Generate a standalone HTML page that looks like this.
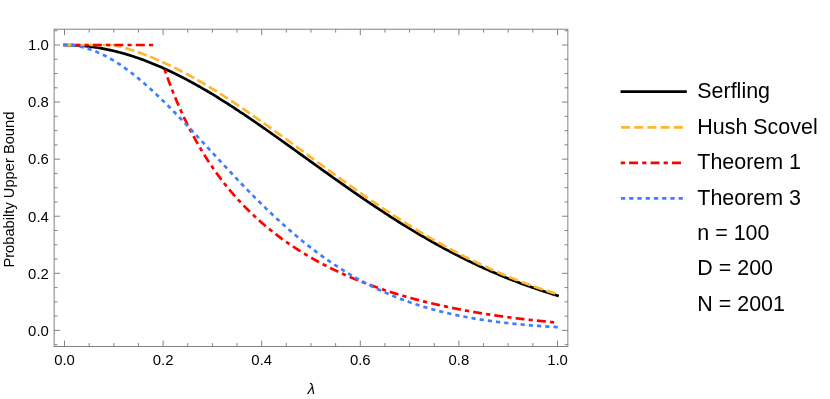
<!DOCTYPE html>
<html><head><meta charset="utf-8"><title>Probability Upper Bound</title>
<style>
html,body{margin:0;padding:0;background:#fff;}
body{width:830px;height:399px;overflow:hidden;font-family:"Liberation Sans",sans-serif;}
svg{display:block;will-change:transform;}
text{font-family:"Liberation Sans",sans-serif;fill:#000;}
.tl text{font-size:14.9px;}
.lg text{font-size:21.45px;}
.c{fill:none;stroke-width:2.7;stroke-linejoin:round;}
</style></head><body>
<svg width="830" height="399" viewBox="0 0 830 399">
<rect x="0" y="0" width="830" height="399" fill="#fff"/>
<g class="c">
<path d="M63.15 45.00 L64.50 45.00 L65.74 45.00 L66.97 45.02 L68.21 45.03 L69.44 45.06 L70.68 45.09 L71.91 45.14 L73.15 45.18 L74.38 45.24 L75.62 45.31 L76.86 45.38 L78.09 45.46 L79.33 45.54 L80.56 45.64 L81.80 45.74 L83.03 45.85 L84.27 45.96 L85.51 46.09 L86.74 46.22 L87.98 46.36 L89.21 46.50 L90.45 46.66 L91.68 46.82 L92.92 46.99 L94.15 47.16 L95.39 47.35 L96.63 47.54 L97.86 47.74 L99.10 47.94 L100.33 48.15 L101.57 48.37 L102.80 48.60 L104.04 48.84 L105.27 49.08 L106.51 49.33 L107.75 49.58 L108.98 49.85 L110.22 50.12 L111.45 50.39 L112.69 50.68 L113.92 50.97 L115.16 51.27 L116.39 51.58 L117.63 51.89 L118.87 52.21 L120.10 52.54 L121.34 52.87 L122.57 53.21 L123.81 53.56 L125.04 53.91 L126.28 54.28 L127.52 54.64 L128.75 55.02 L129.99 55.40 L131.22 55.79 L132.46 56.18 L133.69 56.59 L134.93 57.00 L136.16 57.41 L137.40 57.83 L138.64 58.26 L139.87 58.70 L141.11 59.14 L142.34 59.58 L143.58 60.04 L144.81 60.50 L146.05 60.97 L147.28 61.44 L148.52 61.92 L149.76 62.40 L150.99 62.90 L152.23 63.39 L153.46 63.90 L154.70 64.41 L155.93 64.92 L157.17 65.45 L158.40 65.98 L159.64 66.51 L160.88 67.05 L162.11 67.60 L163.35 68.15 L164.58 68.70 L165.82 69.27 L167.05 69.84 L168.29 70.41 L169.53 70.99 L170.76 71.58 L172.00 72.17 L173.23 72.76 L174.47 73.37 L175.70 73.97 L176.94 74.59 L178.17 75.20 L179.41 75.83 L180.65 76.46 L181.88 77.09 L183.12 77.73 L184.35 78.37 L185.59 79.02 L186.82 79.67 L188.06 80.33 L189.29 81.00 L190.53 81.66 L191.77 82.34 L193.00 83.01 L194.24 83.70 L195.47 84.38 L196.71 85.08 L197.94 85.77 L199.18 86.47 L200.41 87.18 L201.65 87.89 L202.89 88.60 L204.12 89.32 L205.36 90.04 L206.59 90.77 L207.83 91.50 L209.06 92.23 L210.30 92.97 L211.54 93.71 L212.77 94.46 L214.01 95.21 L215.24 95.96 L216.48 96.72 L217.71 97.48 L218.95 98.25 L220.18 99.02 L221.42 99.79 L222.66 100.57 L223.89 101.34 L225.13 102.13 L226.36 102.91 L227.60 103.70 L228.83 104.50 L230.07 105.29 L231.30 106.09 L232.54 106.89 L233.78 107.70 L235.01 108.50 L236.25 109.32 L237.48 110.13 L238.72 110.95 L239.95 111.76 L241.19 112.59 L242.42 113.41 L243.66 114.24 L244.90 115.07 L246.13 115.90 L247.37 116.74 L248.60 117.57 L249.84 118.41 L251.07 119.25 L252.31 120.10 L253.55 120.94 L254.78 121.79 L256.02 122.64 L257.25 123.49 L258.49 124.35 L259.72 125.20 L260.96 126.06 L262.19 126.92 L263.43 127.78 L264.67 128.65 L265.90 129.51 L267.14 130.38 L268.37 131.24 L269.61 132.11 L270.84 132.98 L272.08 133.86 L273.31 134.73 L274.55 135.60 L275.79 136.48 L277.02 137.36 L278.26 138.24 L279.49 139.12 L280.73 140.00 L281.96 140.88 L283.20 141.76 L284.43 142.64 L285.67 143.53 L286.91 144.41 L288.14 145.30 L289.38 146.18 L290.61 147.07 L291.85 147.95 L293.08 148.84 L294.32 149.73 L295.56 150.62 L296.79 151.51 L298.03 152.40 L299.26 153.29 L300.50 154.18 L301.73 155.07 L302.97 155.96 L304.20 156.85 L305.44 157.73 L306.68 158.62 L307.91 159.51 L309.15 160.40 L310.38 161.29 L311.62 162.18 L312.85 163.07 L314.09 163.96 L315.32 164.85 L316.56 165.74 L317.80 166.63 L319.03 167.51 L320.27 168.40 L321.50 169.29 L322.74 170.17 L323.97 171.06 L325.21 171.94 L326.44 172.82 L327.68 173.71 L328.92 174.59 L330.15 175.47 L331.39 176.35 L332.62 177.23 L333.86 178.11 L335.09 178.98 L336.33 179.86 L337.57 180.73 L338.80 181.61 L340.04 182.48 L341.27 183.35 L342.51 184.22 L343.74 185.09 L344.98 185.96 L346.21 186.82 L347.45 187.69 L348.69 188.55 L349.92 189.41 L351.16 190.27 L352.39 191.13 L353.63 191.99 L354.86 192.84 L356.10 193.70 L357.33 194.55 L358.57 195.40 L359.81 196.25 L361.04 197.09 L362.28 197.94 L363.51 198.78 L364.75 199.62 L365.98 200.46 L367.22 201.30 L368.45 202.13 L369.69 202.97 L370.93 203.80 L372.16 204.63 L373.40 205.45 L374.63 206.28 L375.87 207.10 L377.10 207.92 L378.34 208.74 L379.58 209.55 L380.81 210.37 L382.05 211.18 L383.28 211.99 L384.52 212.79 L385.75 213.60 L386.99 214.40 L388.22 215.20 L389.46 215.99 L390.70 216.79 L391.93 217.58 L393.17 218.37 L394.40 219.15 L395.64 219.94 L396.87 220.72 L398.11 221.50 L399.34 222.27 L400.58 223.05 L401.82 223.82 L403.05 224.59 L404.29 225.35 L405.52 226.11 L406.76 226.87 L407.99 227.63 L409.23 228.38 L410.46 229.13 L411.70 229.88 L412.94 230.63 L414.17 231.37 L415.41 232.11 L416.64 232.84 L417.88 233.58 L419.11 234.31 L420.35 235.04 L421.59 235.76 L422.82 236.48 L424.06 237.20 L425.29 237.92 L426.53 238.63 L427.76 239.34 L429.00 240.04 L430.23 240.75 L431.47 241.45 L432.71 242.14 L433.94 242.84 L435.18 243.53 L436.41 244.21 L437.65 244.90 L438.88 245.58 L440.12 246.26 L441.35 246.93 L442.59 247.60 L443.83 248.27 L445.06 248.94 L446.30 249.60 L447.53 250.26 L448.77 250.91 L450.00 251.56 L451.24 252.21 L452.47 252.86 L453.71 253.50 L454.95 254.14 L456.18 254.77 L457.42 255.40 L458.65 256.03 L459.89 256.66 L461.12 257.28 L462.36 257.90 L463.60 258.51 L464.83 259.13 L466.07 259.73 L467.30 260.34 L468.54 260.94 L469.77 261.54 L471.01 262.14 L472.24 262.73 L473.48 263.32 L474.72 263.90 L475.95 264.48 L477.19 265.06 L478.42 265.64 L479.66 266.21 L480.89 266.78 L482.13 267.34 L483.36 267.90 L484.60 268.46 L485.84 269.02 L487.07 269.57 L488.31 270.12 L489.54 270.66 L490.78 271.20 L492.01 271.74 L493.25 272.28 L494.48 272.81 L495.72 273.34 L496.96 273.86 L498.19 274.38 L499.43 274.90 L500.66 275.42 L501.90 275.93 L503.13 276.43 L504.37 276.94 L505.61 277.44 L506.84 277.94 L508.08 278.43 L509.31 278.92 L510.55 279.41 L511.78 279.90 L513.02 280.38 L514.25 280.86 L515.49 281.33 L516.73 281.80 L517.96 282.27 L519.20 282.74 L520.43 283.20 L521.67 283.66 L522.90 284.11 L524.14 284.57 L525.37 285.02 L526.61 285.46 L527.85 285.90 L529.08 286.34 L530.32 286.78 L531.55 287.21 L532.79 287.64 L534.02 288.07 L535.26 288.49 L536.49 288.91 L537.73 289.33 L538.97 289.75 L540.20 290.16 L541.44 290.56 L542.67 290.97 L543.91 291.37 L545.14 291.77 L546.38 292.17 L547.62 292.56 L548.85 292.95 L550.09 293.33 L551.32 293.72 L552.56 294.10 L553.79 294.48 L555.03 294.85 L556.26 295.22 L557.50 295.59 L558.79 295.98" stroke="#000"/>
<path d="M63.15 45.00 L111.80 45.00" stroke="#ffb731" stroke-dasharray="9.4 3.8"/>
<path d="M112.45 45.00 L113.80 45.00 L114.91 45.27 L116.02 45.55 L117.14 45.83 L118.25 46.12 L119.36 46.41 L120.47 46.71 L121.58 47.02 L122.70 47.33 L123.81 47.65 L124.92 47.97 L126.03 48.30 L127.14 48.63 L128.26 48.97 L129.37 49.32 L130.48 49.67 L131.59 50.03 L132.70 50.39 L133.82 50.76 L134.93 51.13 L136.04 51.51 L137.15 51.89 L138.26 52.28 L139.38 52.67 L140.49 53.07 L141.60 53.48 L142.71 53.89 L143.82 54.30 L144.94 54.72 L146.05 55.15 L147.16 55.58 L148.27 56.02 L149.38 56.46 L150.50 56.90 L151.61 57.35 L152.72 57.81 L153.83 58.27 L154.95 58.74 L156.06 59.21 L157.17 59.69 L158.28 60.17 L159.39 60.65 L160.51 61.14 L161.62 61.64 L162.73 62.14 L163.84 62.65 L164.95 63.16 L166.07 63.67 L167.18 64.19 L168.29 64.71 L169.40 65.24 L170.51 65.77 L171.63 66.31 L172.74 66.85 L173.85 67.40 L174.96 67.95 L176.07 68.51 L177.19 69.07 L178.30 69.63 L179.41 70.20 L180.52 70.77 L181.63 71.35 L182.75 71.93 L183.86 72.52 L184.97 73.11 L186.08 73.70 L187.19 74.30 L188.31 74.90 L189.42 75.50 L190.53 76.11 L191.64 76.73 L192.75 77.34 L193.87 77.97 L194.98 78.59 L196.09 79.22 L197.20 79.85 L198.31 80.49 L199.43 81.13 L200.54 81.77 L201.65 82.42 L202.76 83.07 L203.87 83.72 L204.99 84.38 L206.10 85.04 L207.21 85.71 L208.32 86.38 L209.43 87.05 L210.55 87.72 L211.66 88.40 L212.77 89.08 L213.88 89.77 L214.99 90.45 L216.11 91.14 L217.22 91.84 L218.33 92.53 L219.44 93.23 L220.55 93.94 L221.67 94.64 L222.78 95.35 L223.89 96.06 L225.00 96.78 L226.12 97.49 L227.23 98.21 L228.34 98.94 L229.45 99.66 L230.56 100.39 L231.68 101.12 L232.79 101.85 L233.90 102.59 L235.01 103.32 L236.12 104.06 L237.24 104.81 L238.35 105.55 L239.46 106.30 L240.57 107.05 L241.68 107.80 L242.80 108.55 L243.91 109.31 L245.02 110.07 L246.13 110.83 L247.24 111.59 L248.36 112.35 L249.47 113.12 L250.58 113.89 L251.69 114.66 L252.80 115.43 L253.92 116.20 L255.03 116.98 L256.14 117.75 L257.25 118.53 L258.36 119.31 L259.48 120.09 L260.59 120.88 L261.70 121.66 L262.81 122.45 L263.92 123.24 L265.04 124.02 L266.15 124.82 L267.26 125.61 L268.37 126.40 L269.48 127.19 L270.60 127.99 L271.71 128.79 L272.82 129.58 L273.93 130.38 L275.04 131.18 L276.16 131.98 L277.27 132.79 L278.38 133.59 L279.49 134.39 L280.60 135.20 L281.72 136.00 L282.83 136.81 L283.94 137.62 L285.05 138.42 L286.16 139.23 L287.28 140.04 L288.39 140.85 L289.50 141.66 L290.61 142.47 L291.72 143.28 L292.84 144.09 L293.95 144.91 L295.06 145.72 L296.17 146.53 L297.28 147.34 L298.40 148.16 L299.51 148.97 L300.62 149.78 L301.73 150.60 L302.85 151.41 L303.96 152.23 L305.07 153.04 L306.18 153.85 L307.29 154.67 L308.41 155.48 L309.52 156.30 L310.63 157.11 L311.74 157.92 L312.85 158.74 L313.97 159.55 L315.08 160.36 L316.19 161.18 L317.30 161.99 L318.41 162.80 L319.53 163.61 L320.64 164.43 L321.75 165.24 L322.86 166.05 L323.97 166.86 L325.09 167.67 L326.20 168.48 L327.31 169.28 L328.42 170.09 L329.53 170.90 L330.65 171.71 L331.76 172.51 L332.87 173.32 L333.98 174.12 L335.09 174.92 L336.21 175.73 L337.32 176.53 L338.43 177.33 L339.54 178.13 L340.65 178.93 L341.77 179.72 L342.88 180.52 L343.99 181.32 L345.10 182.11 L346.21 182.90 L347.33 183.70 L348.44 184.49 L349.55 185.28 L350.66 186.07 L351.77 186.85 L352.89 187.64 L354.00 188.43 L355.11 189.21 L356.22 189.99 L357.33 190.77 L358.45 191.55 L359.56 192.33 L360.67 193.11 L361.78 193.88 L362.89 194.66 L364.01 195.43 L365.12 196.20 L366.23 196.97 L367.34 197.74 L368.45 198.50 L369.57 199.27 L370.68 200.03 L371.79 200.79 L372.90 201.55 L374.02 202.31 L375.13 203.06 L376.24 203.81 L377.35 204.57 L378.46 205.32 L379.58 206.07 L380.69 206.81 L381.80 207.56 L382.91 208.30 L384.02 209.04 L385.14 209.78 L386.25 210.52 L387.36 211.25 L388.47 211.99 L389.58 212.72 L390.70 213.45 L391.81 214.17 L392.92 214.90 L394.03 215.62 L395.14 216.34 L396.26 217.06 L397.37 217.78 L398.48 218.49 L399.59 219.20 L400.70 219.91 L401.82 220.62 L402.93 221.33 L404.04 222.03 L405.15 222.73 L406.26 223.43 L407.38 224.13 L408.49 224.82 L409.60 225.51 L410.71 226.20 L411.82 226.89 L412.94 227.57 L414.05 228.26 L415.16 228.94 L416.27 229.61 L417.38 230.29 L418.50 230.96 L419.61 231.63 L420.72 232.30 L421.83 232.97 L422.94 233.63 L424.06 234.29 L425.17 234.95 L426.28 235.60 L427.39 236.26 L428.50 236.91 L429.62 237.56 L430.73 238.20 L431.84 238.84 L432.95 239.48 L434.06 240.12 L435.18 240.76 L436.29 241.39 L437.40 242.02 L438.51 242.65 L439.62 243.27 L440.74 243.90 L441.85 244.52 L442.96 245.13 L444.07 245.75 L445.18 246.36 L446.30 246.97 L447.41 247.58 L448.52 248.18 L449.63 248.78 L450.75 249.38 L451.86 249.97 L452.97 250.57 L454.08 251.16 L455.19 251.75 L456.31 252.33 L457.42 252.91 L458.53 253.49 L459.64 254.07 L460.75 254.64 L461.87 255.22 L462.98 255.78 L464.09 256.35 L465.20 256.91 L466.31 257.47 L467.43 258.03 L468.54 258.59 L469.65 259.14 L470.76 259.69 L471.87 260.24 L472.99 260.78 L474.10 261.32 L475.21 261.86 L476.32 262.40 L477.43 262.93 L478.55 263.46 L479.66 263.99 L480.77 264.51 L481.88 265.03 L482.99 265.55 L484.11 266.07 L485.22 266.58 L486.33 267.09 L487.44 267.60 L488.55 268.11 L489.67 268.61 L490.78 269.11 L491.89 269.61 L493.00 270.10 L494.11 270.59 L495.23 271.08 L496.34 271.57 L497.45 272.05 L498.56 272.53 L499.67 273.01 L500.79 273.49 L501.90 273.96 L503.01 274.43 L504.12 274.89 L505.23 275.36 L506.35 275.82 L507.46 276.28 L508.57 276.74 L509.68 277.19 L510.79 277.64 L511.91 278.09 L513.02 278.53 L514.13 278.98 L515.24 279.42 L516.35 279.85 L517.47 280.29 L518.58 280.72 L519.69 281.15 L520.80 281.57 L521.92 282.00 L523.03 282.42 L524.14 282.84 L525.25 283.25 L526.36 283.67 L527.48 284.08 L528.59 284.49 L529.70 284.89 L530.81 285.29 L531.92 285.69 L533.04 286.09 L534.15 286.49 L535.26 286.88 L536.37 287.27 L537.48 287.66 L538.60 288.04 L539.71 288.42 L540.82 288.80 L541.93 289.18 L543.04 289.55 L544.16 289.92 L545.27 290.29 L546.38 290.66 L547.49 291.02 L548.60 291.39 L549.72 291.74 L550.83 292.10 L551.94 292.46 L553.05 292.81 L554.16 293.16 L555.28 293.50 L556.39 293.85 L557.50 294.19 L558.79 294.59" stroke="#ffb731" stroke-dasharray="9.4 3.8"/>
<path d="M63.15 45.00 L153.20 45.00" stroke="#ff0000" stroke-dasharray="4.2 4.15 8.95 4.15"/>
<path d="M164.63 69.49 L165.37 71.62 L166.35 74.40 L167.34 77.14 L168.32 79.84 L169.31 82.49 L170.29 85.09 L171.28 87.65 L172.26 90.18 L173.25 92.66 L174.23 95.10 L175.22 97.51 L176.20 99.87 L177.19 102.20 L178.18 104.50 L179.16 106.76 L180.15 108.98 L181.13 111.18 L182.12 113.34 L183.10 115.47 L184.09 117.56 L185.07 119.63 L186.06 121.67 L187.04 123.68 L188.03 125.66 L189.01 127.62 L190.00 129.54 L190.98 131.44 L191.97 133.32 L192.95 135.17 L193.94 136.99 L194.92 138.79 L195.91 140.57 L196.90 142.32 L197.88 144.05 L198.87 145.76 L199.85 147.45 L200.84 149.11 L201.82 150.76 L202.81 152.38 L203.79 153.98 L204.78 155.57 L205.76 157.13 L206.75 158.67 L207.73 160.20 L208.72 161.71 L209.70 163.20 L210.69 164.67 L211.67 166.12 L212.66 167.56 L213.64 168.98 L214.63 170.39 L215.62 171.77 L216.60 173.15 L217.59 174.50 L218.57 175.84 L219.56 177.17 L220.54 178.48 L221.53 179.78 L222.51 181.06 L223.50 182.33 L224.48 183.58 L225.47 184.82 L226.45 186.05 L227.44 187.27 L228.42 188.47 L229.41 189.66 L230.39 190.83 L231.38 192.00 L232.36 193.15 L233.35 194.29 L234.34 195.42 L235.32 196.53 L236.31 197.64 L237.29 198.73 L238.28 199.81 L239.26 200.89 L240.25 201.95 L241.23 203.00 L242.22 204.04 L243.20 205.07 L244.19 206.09 L245.17 207.10 L246.16 208.10 L247.14 209.09 L248.13 210.07 L249.11 211.04 L250.10 212.00 L251.08 212.96 L252.07 213.90 L253.06 214.84 L254.04 215.76 L255.03 216.68 L256.01 217.59 L257.00 218.49 L257.98 219.38 L258.97 220.27 L259.95 221.14 L260.94 222.01 L261.92 222.87 L262.91 223.73 L263.89 224.57 L264.88 225.41 L265.86 226.24 L266.85 227.06 L267.83 227.88 L268.82 228.69 L269.80 229.49 L270.79 230.28 L271.77 231.07 L272.76 231.85 L273.75 232.62 L274.73 233.39 L275.72 234.15 L276.70 234.90 L277.69 235.65 L278.67 236.39 L279.66 237.13 L280.64 237.86 L281.63 238.58 L282.61 239.30 L283.60 240.01 L284.58 240.71 L285.57 241.41 L286.55 242.10 L287.54 242.79 L288.52 243.47 L289.51 244.15 L290.49 244.82 L291.48 245.48 L292.47 246.14 L293.45 246.80 L294.44 247.45 L295.42 248.09 L296.41 248.73 L297.39 249.36 L298.38 249.99 L299.36 250.61 L300.35 251.23 L301.33 251.85 L302.32 252.46 L303.30 253.06 L304.29 253.66 L305.27 254.25 L306.26 254.84 L307.24 255.43 L308.23 256.01 L309.21 256.59 L310.20 257.16 L311.19 257.73 L312.17 258.29 L313.16 258.85 L314.14 259.40 L315.13 259.95 L316.11 260.50 L317.10 261.04 L318.08 261.58 L319.07 262.11 L320.05 262.64 L321.04 263.17 L322.02 263.69 L323.01 264.21 L323.99 264.72 L324.98 265.23 L325.96 265.74 L326.95 266.24 L327.93 266.74 L328.92 267.23 L329.91 267.72 L330.89 268.21 L331.88 268.69 L332.86 269.18 L333.85 269.65 L334.83 270.13 L335.82 270.60 L336.80 271.06 L337.79 271.52 L338.77 271.98 L339.76 272.44 L340.74 272.89 L341.73 273.34 L342.71 273.79 L343.70 274.23 L344.68 274.67 L345.67 275.11 L346.65 275.54 L347.64 275.97 L348.63 276.40 L349.61 276.82 L350.60 277.25 L351.58 277.66 L352.57 278.08 L353.55 278.49 L354.54 278.90 L355.52 279.31 L356.51 279.71 L357.49 280.11 L358.48 280.51 L359.46 280.90 L360.45 281.29 L361.43 281.68 L362.42 282.07 L363.40 282.45 L364.39 282.83 L365.37 283.21 L366.36 283.59 L367.35 283.96 L368.33 284.33 L369.32 284.70 L370.30 285.06 L371.29 285.43 L372.27 285.79 L373.26 286.14 L374.24 286.50 L375.23 286.85 L376.21 287.20 L377.20 287.55 L378.18 287.89 L379.17 288.23 L380.15 288.57 L381.14 288.91 L382.12 289.25 L383.11 289.58 L384.09 289.91 L385.08 290.24 L386.06 290.56 L387.05 290.89 L388.04 291.21 L389.02 291.53 L390.01 291.84 L390.99 292.16 L391.98 292.47 L392.96 292.78 L393.95 293.09 L394.93 293.39 L395.92 293.70 L396.90 294.00 L397.89 294.30 L398.87 294.60 L399.86 294.89 L400.84 295.18 L401.83 295.48 L402.81 295.76 L403.80 296.05 L404.78 296.34 L405.77 296.62 L406.76 296.90 L407.74 297.18 L408.73 297.46 L409.71 297.73 L410.70 298.00 L411.68 298.28 L412.67 298.55 L413.65 298.81 L414.64 299.08 L415.62 299.34 L416.61 299.60 L417.59 299.86 L418.58 300.12 L419.56 300.38 L420.55 300.63 L421.53 300.89 L422.52 301.14 L423.50 301.39 L424.49 301.63 L425.48 301.88 L426.46 302.12 L427.45 302.36 L428.43 302.60 L429.42 302.84 L430.40 303.08 L431.39 303.31 L432.37 303.55 L433.36 303.78 L434.34 304.01 L435.33 304.24 L436.31 304.47 L437.30 304.69 L438.28 304.92 L439.27 305.14 L440.25 305.36 L441.24 305.58 L442.22 305.79 L443.21 306.01 L444.20 306.22 L445.18 306.44 L446.17 306.65 L447.15 306.86 L448.14 307.07 L449.12 307.27 L450.11 307.48 L451.09 307.68 L452.08 307.88 L453.06 308.08 L454.05 308.28 L455.03 308.48 L456.02 308.68 L457.00 308.87 L457.99 309.07 L458.97 309.26 L459.96 309.45 L460.94 309.64 L461.93 309.83 L462.92 310.01 L463.90 310.20 L464.89 310.38 L465.87 310.56 L466.86 310.74 L467.84 310.92 L468.83 311.10 L469.81 311.28 L470.80 311.46 L471.78 311.63 L472.77 311.80 L473.75 311.97 L474.74 312.15 L475.72 312.31 L476.71 312.48 L477.69 312.65 L478.68 312.81 L479.66 312.98 L480.65 313.14 L481.64 313.30 L482.62 313.46 L483.61 313.62 L484.59 313.78 L485.58 313.94 L486.56 314.09 L487.55 314.25 L488.53 314.40 L489.52 314.55 L490.50 314.71 L491.49 314.86 L492.47 315.00 L493.46 315.15 L494.44 315.30 L495.43 315.44 L496.41 315.59 L497.40 315.73 L498.38 315.87 L499.37 316.01 L500.35 316.15 L501.34 316.29 L502.33 316.43 L503.31 316.57 L504.30 316.70 L505.28 316.83 L506.27 316.97 L507.25 317.10 L508.24 317.23 L509.22 317.36 L510.21 317.49 L511.19 317.62 L512.18 317.75 L513.16 317.87 L514.15 318.00 L515.13 318.12 L516.12 318.24 L517.10 318.37 L518.09 318.49 L519.07 318.61 L520.06 318.73 L521.05 318.84 L522.03 318.96 L523.02 319.08 L524.00 319.19 L524.99 319.31 L525.97 319.42 L526.96 319.53 L527.94 319.64 L528.93 319.75 L529.91 319.86 L530.90 319.97 L531.88 320.08 L532.87 320.19 L533.85 320.29 L534.84 320.40 L535.82 320.50 L536.81 320.61 L537.79 320.71 L538.78 320.81 L539.77 320.91 L540.75 321.01 L541.74 321.11 L542.72 321.21 L543.71 321.31 L544.69 321.40 L545.68 321.50 L546.66 321.59 L547.65 321.69 L548.63 321.78 L549.62 321.87 L550.60 321.97 L551.59 322.06 L552.57 322.15 L553.56 322.24 L554.54 322.33 L555.53 322.41 L556.51 322.50 L557.50 322.59" stroke="#ff0000" stroke-dasharray="4.2 4.15 8.95 4.15"/>
<path d="M63.15 44.99 L64.50 45.00 L65.74 45.01 L66.97 45.04 L68.21 45.09 L69.44 45.17 L70.68 45.26 L71.91 45.38 L73.15 45.51 L74.38 45.67 L75.62 45.85 L76.86 46.04 L78.09 46.26 L79.33 46.50 L80.56 46.76 L81.80 47.03 L83.03 47.33 L84.27 47.65 L85.51 47.98 L86.74 48.34 L87.98 48.71 L89.21 49.11 L90.45 49.52 L91.68 49.95 L92.92 50.40 L94.15 50.87 L95.39 51.36 L96.63 51.87 L97.86 52.39 L99.10 52.93 L100.33 53.49 L101.57 54.07 L102.80 54.66 L104.04 55.28 L105.27 55.91 L106.51 56.55 L107.75 57.21 L108.98 57.89 L110.22 58.59 L111.45 59.30 L112.69 60.03 L113.92 60.77 L115.16 61.53 L116.39 62.30 L117.63 63.09 L118.87 63.90 L120.10 64.72 L121.34 65.55 L122.57 66.40 L123.81 67.26 L125.04 68.14 L126.28 69.03 L127.52 69.93 L128.75 70.85 L129.99 71.78 L131.22 72.73 L132.46 73.68 L133.69 74.65 L134.93 75.63 L136.16 76.63 L137.40 77.63 L138.64 78.65 L139.87 79.68 L141.11 80.72 L142.34 81.77 L143.58 82.83 L144.81 83.90 L146.05 84.99 L147.28 86.08 L148.52 87.18 L149.76 88.30 L150.99 89.42 L152.23 90.55 L153.46 91.69 L154.70 92.84 L155.93 94.00 L157.17 95.17 L158.40 96.34 L159.64 97.53 L160.88 98.72 L162.11 99.92 L163.35 101.12 L164.58 102.34 L165.82 103.56 L167.05 104.78 L168.29 106.02 L169.53 107.26 L170.76 108.50 L172.00 109.76 L173.23 111.01 L174.47 112.28 L175.70 113.55 L176.94 114.82 L178.17 116.10 L179.41 117.38 L180.65 118.67 L181.88 119.96 L183.12 121.26 L184.35 122.56 L185.59 123.86 L186.82 125.17 L188.06 126.48 L189.29 127.79 L190.53 129.11 L191.77 130.43 L193.00 131.75 L194.24 133.08 L195.47 134.40 L196.71 135.73 L197.94 137.06 L199.18 138.39 L200.41 139.73 L201.65 141.06 L202.89 142.40 L204.12 143.73 L205.36 145.07 L206.59 146.41 L207.83 147.75 L209.06 149.08 L210.30 150.42 L211.54 151.76 L212.77 153.10 L214.01 154.44 L215.24 155.77 L216.48 157.11 L217.71 158.44 L218.95 159.78 L220.18 161.11 L221.42 162.44 L222.66 163.77 L223.89 165.10 L225.13 166.43 L226.36 167.75 L227.60 169.07 L228.83 170.39 L230.07 171.71 L231.30 173.03 L232.54 174.34 L233.78 175.65 L235.01 176.95 L236.25 178.26 L237.48 179.56 L238.72 180.86 L239.95 182.15 L241.19 183.44 L242.42 184.73 L243.66 186.01 L244.90 187.29 L246.13 188.56 L247.37 189.84 L248.60 191.10 L249.84 192.37 L251.07 193.62 L252.31 194.88 L253.55 196.13 L254.78 197.37 L256.02 198.61 L257.25 199.85 L258.49 201.08 L259.72 202.30 L260.96 203.52 L262.19 204.73 L263.43 205.94 L264.67 207.15 L265.90 208.35 L267.14 209.54 L268.37 210.73 L269.61 211.91 L270.84 213.08 L272.08 214.25 L273.31 215.42 L274.55 216.57 L275.79 217.73 L277.02 218.87 L278.26 220.01 L279.49 221.14 L280.73 222.27 L281.96 223.39 L283.20 224.51 L284.43 225.62 L285.67 226.72 L286.91 227.81 L288.14 228.90 L289.38 229.98 L290.61 231.06 L291.85 232.13 L293.08 233.19 L294.32 234.24 L295.56 235.29 L296.79 236.33 L298.03 237.37 L299.26 238.40 L300.50 239.42 L301.73 240.43 L302.97 241.44 L304.20 242.44 L305.44 243.43 L306.68 244.42 L307.91 245.39 L309.15 246.37 L310.38 247.33 L311.62 248.29 L312.85 249.24 L314.09 250.18 L315.32 251.12 L316.56 252.05 L317.80 252.97 L319.03 253.88 L320.27 254.79 L321.50 255.69 L322.74 256.58 L323.97 257.47 L325.21 258.35 L326.44 259.22 L327.68 260.08 L328.92 260.94 L330.15 261.79 L331.39 262.63 L332.62 263.47 L333.86 264.29 L335.09 265.12 L336.33 265.93 L337.57 266.74 L338.80 267.54 L340.04 268.33 L341.27 269.11 L342.51 269.89 L343.74 270.66 L344.98 271.43 L346.21 272.18 L347.45 272.93 L348.69 273.68 L349.92 274.41 L351.16 275.14 L352.39 275.86 L353.63 276.58 L354.86 277.29 L356.10 277.99 L357.33 278.68 L358.57 279.37 L359.81 280.05 L361.04 280.72 L362.28 281.39 L363.51 282.05 L364.75 282.71 L365.98 283.35 L367.22 283.99 L368.45 284.63 L369.69 285.25 L370.93 285.88 L372.16 286.49 L373.40 287.10 L374.63 287.70 L375.87 288.29 L377.10 288.88 L378.34 289.46 L379.58 290.04 L380.81 290.61 L382.05 291.17 L383.28 291.73 L384.52 292.28 L385.75 292.83 L386.99 293.36 L388.22 293.90 L389.46 294.42 L390.70 294.94 L391.93 295.46 L393.17 295.97 L394.40 296.47 L395.64 296.97 L396.87 297.46 L398.11 297.94 L399.34 298.42 L400.58 298.90 L401.82 299.37 L403.05 299.83 L404.29 300.29 L405.52 300.74 L406.76 301.19 L407.99 301.63 L409.23 302.06 L410.46 302.49 L411.70 302.92 L412.94 303.34 L414.17 303.75 L415.41 304.16 L416.64 304.57 L417.88 304.96 L419.11 305.36 L420.35 305.75 L421.59 306.13 L422.82 306.51 L424.06 306.89 L425.29 307.25 L426.53 307.62 L427.76 307.98 L429.00 308.33 L430.23 308.69 L431.47 309.03 L432.71 309.37 L433.94 309.71 L435.18 310.04 L436.41 310.37 L437.65 310.69 L438.88 311.01 L440.12 311.33 L441.35 311.64 L442.59 311.94 L443.83 312.25 L445.06 312.54 L446.30 312.84 L447.53 313.13 L448.77 313.41 L450.00 313.70 L451.24 313.97 L452.47 314.25 L453.71 314.52 L454.95 314.78 L456.18 315.05 L457.42 315.31 L458.65 315.56 L459.89 315.81 L461.12 316.06 L462.36 316.30 L463.60 316.54 L464.83 316.78 L466.07 317.02 L467.30 317.25 L468.54 317.47 L469.77 317.70 L471.01 317.92 L472.24 318.13 L473.48 318.35 L474.72 318.56 L475.95 318.77 L477.19 318.97 L478.42 319.17 L479.66 319.37 L480.89 319.56 L482.13 319.76 L483.36 319.94 L484.60 320.13 L485.84 320.31 L487.07 320.49 L488.31 320.67 L489.54 320.85 L490.78 321.02 L492.01 321.19 L493.25 321.36 L494.48 321.52 L495.72 321.68 L496.96 321.84 L498.19 322.00 L499.43 322.15 L500.66 322.30 L501.90 322.45 L503.13 322.60 L504.37 322.74 L505.61 322.89 L506.84 323.03 L508.08 323.16 L509.31 323.30 L510.55 323.43 L511.78 323.56 L513.02 323.69 L514.25 323.82 L515.49 323.94 L516.73 324.06 L517.96 324.18 L519.20 324.30 L520.43 324.42 L521.67 324.53 L522.90 324.65 L524.14 324.76 L525.37 324.86 L526.61 324.97 L527.85 325.08 L529.08 325.18 L530.32 325.28 L531.55 325.38 L532.79 325.48 L534.02 325.57 L535.26 325.67 L536.49 325.76 L537.73 325.85 L538.97 325.94 L540.20 326.03 L541.44 326.12 L542.67 326.20 L543.91 326.29 L545.14 326.37 L546.38 326.45 L547.62 326.53 L548.85 326.61 L550.09 326.68 L551.32 326.76 L552.56 326.83 L553.79 326.90 L555.03 326.97 L556.26 327.04 L557.50 327.11 L558.85 327.19" stroke="#3f7fff" stroke-dasharray="4.25 4"/>
</g>
<g stroke="#7c7c7c" stroke-width="0.95" fill="none">
<rect x="54.15" y="29.2" width="513.71" height="317.30"/>
<line x1="64.50" y1="346.50" x2="64.50" y2="340.60"/>
<line x1="64.50" y1="29.20" x2="64.50" y2="35.10"/>
<line x1="54.15" y1="330.40" x2="60.05" y2="330.40"/>
<line x1="567.86" y1="330.40" x2="561.96" y2="330.40"/>
<line x1="89.15" y1="346.50" x2="89.15" y2="343.10"/>
<line x1="89.15" y1="29.20" x2="89.15" y2="32.60"/>
<line x1="54.15" y1="316.13" x2="57.55" y2="316.13"/>
<line x1="567.86" y1="316.13" x2="564.46" y2="316.13"/>
<line x1="113.80" y1="346.50" x2="113.80" y2="343.10"/>
<line x1="113.80" y1="29.20" x2="113.80" y2="32.60"/>
<line x1="54.15" y1="301.86" x2="57.55" y2="301.86"/>
<line x1="567.86" y1="301.86" x2="564.46" y2="301.86"/>
<line x1="138.45" y1="346.50" x2="138.45" y2="343.10"/>
<line x1="138.45" y1="29.20" x2="138.45" y2="32.60"/>
<line x1="54.15" y1="287.59" x2="57.55" y2="287.59"/>
<line x1="567.86" y1="287.59" x2="564.46" y2="287.59"/>
<line x1="163.10" y1="346.50" x2="163.10" y2="340.60"/>
<line x1="163.10" y1="29.20" x2="163.10" y2="35.10"/>
<line x1="54.15" y1="273.32" x2="60.05" y2="273.32"/>
<line x1="567.86" y1="273.32" x2="561.96" y2="273.32"/>
<line x1="187.75" y1="346.50" x2="187.75" y2="343.10"/>
<line x1="187.75" y1="29.20" x2="187.75" y2="32.60"/>
<line x1="54.15" y1="259.05" x2="57.55" y2="259.05"/>
<line x1="567.86" y1="259.05" x2="564.46" y2="259.05"/>
<line x1="212.40" y1="346.50" x2="212.40" y2="343.10"/>
<line x1="212.40" y1="29.20" x2="212.40" y2="32.60"/>
<line x1="54.15" y1="244.78" x2="57.55" y2="244.78"/>
<line x1="567.86" y1="244.78" x2="564.46" y2="244.78"/>
<line x1="237.05" y1="346.50" x2="237.05" y2="343.10"/>
<line x1="237.05" y1="29.20" x2="237.05" y2="32.60"/>
<line x1="54.15" y1="230.51" x2="57.55" y2="230.51"/>
<line x1="567.86" y1="230.51" x2="564.46" y2="230.51"/>
<line x1="261.70" y1="346.50" x2="261.70" y2="340.60"/>
<line x1="261.70" y1="29.20" x2="261.70" y2="35.10"/>
<line x1="54.15" y1="216.24" x2="60.05" y2="216.24"/>
<line x1="567.86" y1="216.24" x2="561.96" y2="216.24"/>
<line x1="286.35" y1="346.50" x2="286.35" y2="343.10"/>
<line x1="286.35" y1="29.20" x2="286.35" y2="32.60"/>
<line x1="54.15" y1="201.97" x2="57.55" y2="201.97"/>
<line x1="567.86" y1="201.97" x2="564.46" y2="201.97"/>
<line x1="311.00" y1="346.50" x2="311.00" y2="343.10"/>
<line x1="311.00" y1="29.20" x2="311.00" y2="32.60"/>
<line x1="54.15" y1="187.70" x2="57.55" y2="187.70"/>
<line x1="567.86" y1="187.70" x2="564.46" y2="187.70"/>
<line x1="335.65" y1="346.50" x2="335.65" y2="343.10"/>
<line x1="335.65" y1="29.20" x2="335.65" y2="32.60"/>
<line x1="54.15" y1="173.43" x2="57.55" y2="173.43"/>
<line x1="567.86" y1="173.43" x2="564.46" y2="173.43"/>
<line x1="360.30" y1="346.50" x2="360.30" y2="340.60"/>
<line x1="360.30" y1="29.20" x2="360.30" y2="35.10"/>
<line x1="54.15" y1="159.16" x2="60.05" y2="159.16"/>
<line x1="567.86" y1="159.16" x2="561.96" y2="159.16"/>
<line x1="384.95" y1="346.50" x2="384.95" y2="343.10"/>
<line x1="384.95" y1="29.20" x2="384.95" y2="32.60"/>
<line x1="54.15" y1="144.89" x2="57.55" y2="144.89"/>
<line x1="567.86" y1="144.89" x2="564.46" y2="144.89"/>
<line x1="409.60" y1="346.50" x2="409.60" y2="343.10"/>
<line x1="409.60" y1="29.20" x2="409.60" y2="32.60"/>
<line x1="54.15" y1="130.62" x2="57.55" y2="130.62"/>
<line x1="567.86" y1="130.62" x2="564.46" y2="130.62"/>
<line x1="434.25" y1="346.50" x2="434.25" y2="343.10"/>
<line x1="434.25" y1="29.20" x2="434.25" y2="32.60"/>
<line x1="54.15" y1="116.35" x2="57.55" y2="116.35"/>
<line x1="567.86" y1="116.35" x2="564.46" y2="116.35"/>
<line x1="458.90" y1="346.50" x2="458.90" y2="340.60"/>
<line x1="458.90" y1="29.20" x2="458.90" y2="35.10"/>
<line x1="54.15" y1="102.08" x2="60.05" y2="102.08"/>
<line x1="567.86" y1="102.08" x2="561.96" y2="102.08"/>
<line x1="483.55" y1="346.50" x2="483.55" y2="343.10"/>
<line x1="483.55" y1="29.20" x2="483.55" y2="32.60"/>
<line x1="54.15" y1="87.81" x2="57.55" y2="87.81"/>
<line x1="567.86" y1="87.81" x2="564.46" y2="87.81"/>
<line x1="508.20" y1="346.50" x2="508.20" y2="343.10"/>
<line x1="508.20" y1="29.20" x2="508.20" y2="32.60"/>
<line x1="54.15" y1="73.54" x2="57.55" y2="73.54"/>
<line x1="567.86" y1="73.54" x2="564.46" y2="73.54"/>
<line x1="532.85" y1="346.50" x2="532.85" y2="343.10"/>
<line x1="532.85" y1="29.20" x2="532.85" y2="32.60"/>
<line x1="54.15" y1="59.27" x2="57.55" y2="59.27"/>
<line x1="567.86" y1="59.27" x2="564.46" y2="59.27"/>
<line x1="557.50" y1="346.50" x2="557.50" y2="340.60"/>
<line x1="557.50" y1="29.20" x2="557.50" y2="35.10"/>
<line x1="54.15" y1="45.00" x2="60.05" y2="45.00"/>
<line x1="567.86" y1="45.00" x2="561.96" y2="45.00"/>
<line x1="54.15" y1="30.73" x2="57.45" y2="30.73"/>
<line x1="567.86" y1="30.73" x2="564.56" y2="30.73"/>
<line x1="54.15" y1="344.67" x2="57.45" y2="344.67"/>
<line x1="567.86" y1="344.67" x2="564.56" y2="344.67"/>
</g>
<g class="tl">
<text x="64.50" y="365.3" text-anchor="middle">0.0</text>
<text x="163.10" y="365.3" text-anchor="middle">0.2</text>
<text x="261.70" y="365.3" text-anchor="middle">0.4</text>
<text x="360.30" y="365.3" text-anchor="middle">0.6</text>
<text x="458.90" y="365.3" text-anchor="middle">0.8</text>
<text x="557.50" y="365.3" text-anchor="middle">1.0</text>
<text x="48.8" y="335.70" text-anchor="end">0.0</text>
<text x="48.8" y="278.62" text-anchor="end">0.2</text>
<text x="48.8" y="221.54" text-anchor="end">0.4</text>
<text x="48.8" y="164.46" text-anchor="end">0.6</text>
<text x="48.8" y="107.38" text-anchor="end">0.8</text>
<text x="48.8" y="50.30" text-anchor="end">1.0</text>
<text x="311.3" y="394.3" text-anchor="middle" font-style="italic" style="font-size:15.5px">λ</text>
<text transform="translate(13.5 189.6) rotate(-90)" text-anchor="middle" style="font-size:14.7px">Probabilty Upper Bound</text>
</g>
<g class="c" stroke-width="2.5">
<path d="M620.55 91.55 H686.8" stroke="#000"/>
<path d="M621.0 127.35 H683.6" stroke="#ffb731" stroke-dasharray="9.05 4.15"/>
<path d="M620.75 162.9 H681.9" stroke="#ff0000" stroke-dasharray="4.2 4.15 8.95 4.15"/>
<path d="M620.9 198.45 H683.4" stroke="#3f7fff" stroke-dasharray="4.25 4"/>
</g>
<g class="lg">
<text x="697.3" y="97.50">Serfling</text>
<text x="697.3" y="133.60">Hush Scovel</text>
<text x="697.3" y="169.20">Theorem 1</text>
<text x="697.3" y="205.00">Theorem 3</text>
<text x="697.3" y="240.00">n = 100</text>
<text x="697.3" y="274.90">D = 200</text>
<text x="697.3" y="310.80">N = 2001</text>
</g>
</svg>
</body></html>
